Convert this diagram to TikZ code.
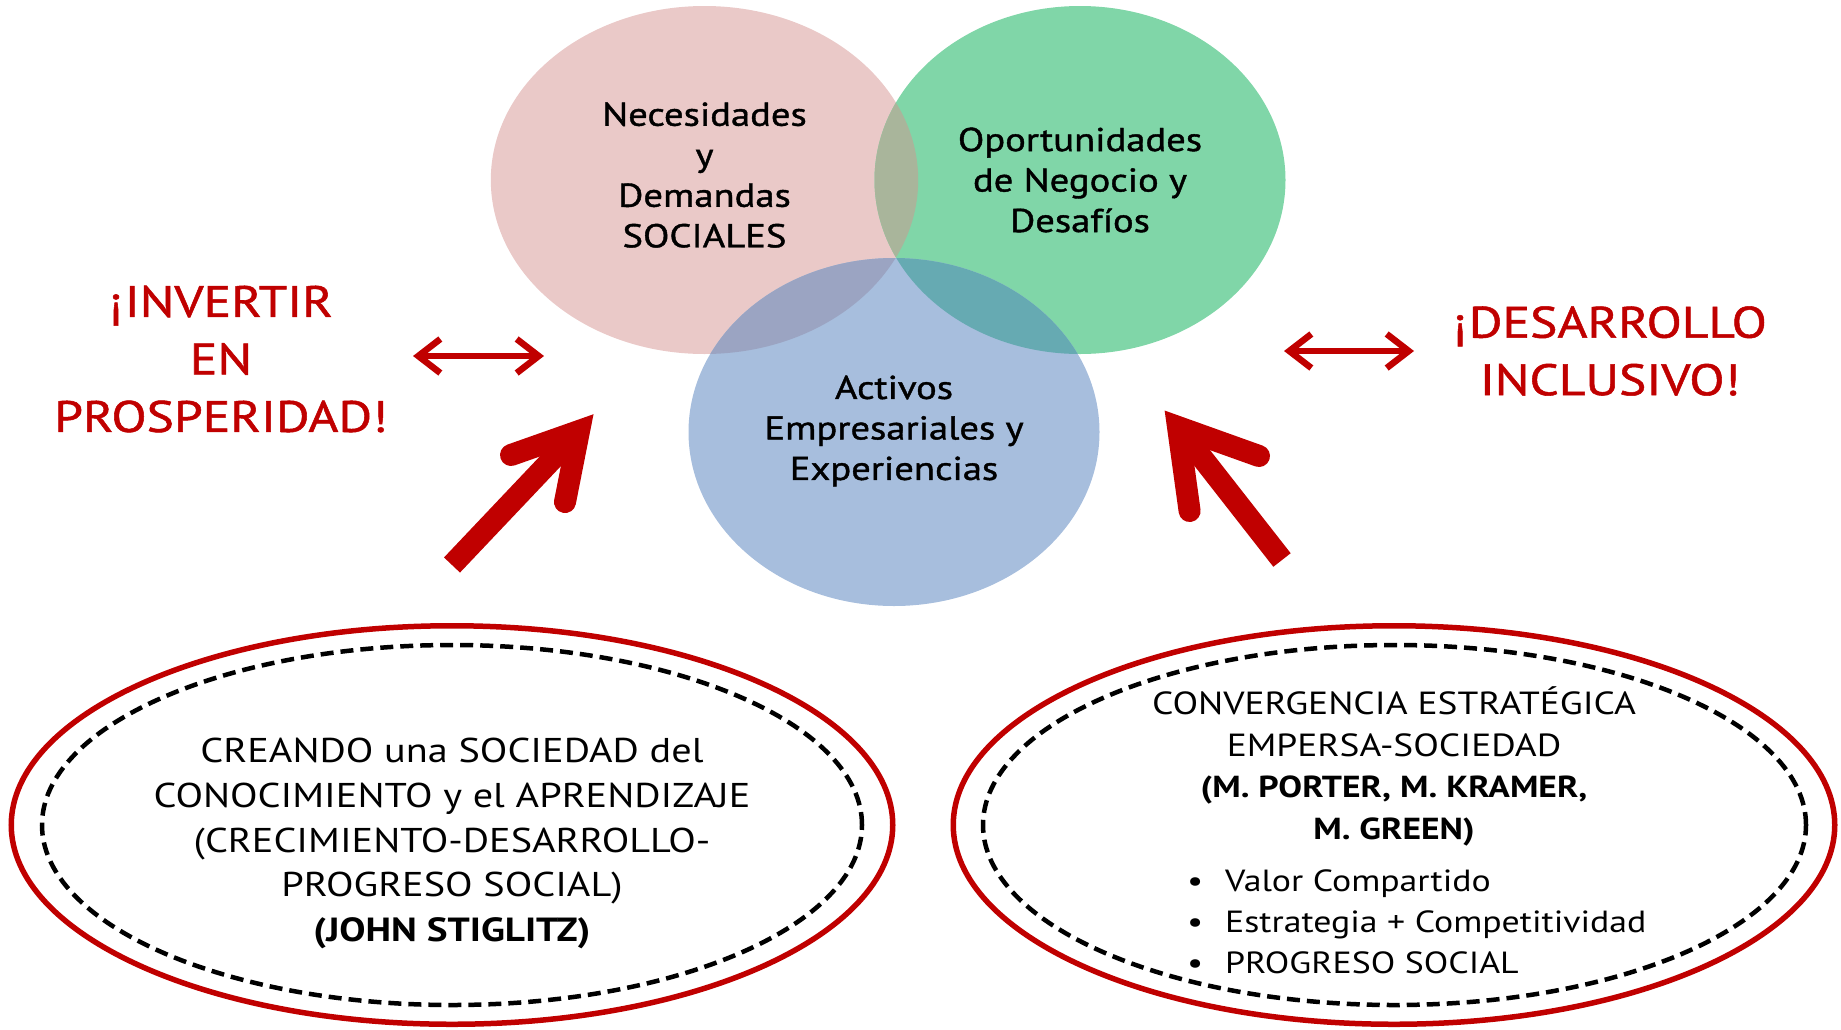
\documentclass[tikz,border=0pt]{standalone}
\usepackage{fontspec}
\setmainfont{PT Sans}[FakeStretch=1.17]
\newfontfamily\medfont{PT Sans}[FakeStretch=1.17, FakeBold=1.2]
\usetikzlibrary{shapes.geometric,arrows.meta}
\definecolor{pinkc}{HTML}{EAC9C8}
\definecolor{greenc}{HTML}{80D6A8}
\definecolor{bluec}{HTML}{A7BEDD}
\definecolor{pgc}{HTML}{A9B59B}
\definecolor{pbc}{HTML}{9BA4C2}
\definecolor{gbc}{HTML}{66AAB2}
\definecolor{myred}{HTML}{C00000}
\begin{document}
\begin{tikzpicture}[x=1pt,y=-1pt,
  ctext/.style={align=center, font=\medfont\fontsize{33}{40.5}\selectfont, inner sep=0pt},
  redtext/.style={align=center, text=myred, font=\medfont\fontsize{44}{57.5}\selectfont, inner sep=0pt},
  outerell/.style={ellipse, draw=myred, line width=5.5pt, inner sep=0pt},
  dashell/.style={ellipse, draw=black, line width=4.5pt, dash pattern=on 13pt off 7pt, inner sep=0pt},
  btext/.style={align=center, inner sep=0pt},
  dblarrow/.style={draw=myred, line width=6.5pt, {Straight Barb[length=22pt,width=34pt]}-{Straight Barb[length=22pt,width=34pt]}},
  bigshaft/.style={draw=myred, line width=22pt},
  bigwing/.style={draw=myred, line width=22pt, line cap=round, line join=miter, miter limit=20}
]
\useasboundingbox (0,0) rectangle (1841,1029);
% Venn fills
\fill[pinkc] (704.5,180) ellipse [x radius=213.7, y radius=174];
\fill[greenc] (1080,180) ellipse [x radius=205.5, y radius=174];
\fill[bluec] (894,432) ellipse [x radius=205.5, y radius=174];
\begin{scope}
  \clip (704.5,180) ellipse [x radius=213.7, y radius=174];
  \fill[pgc] (1080,180) ellipse [x radius=205.5, y radius=174];
  \fill[pbc] (894,432) ellipse [x radius=205.5, y radius=174];
\end{scope}
\begin{scope}
  \clip (1080,180) ellipse [x radius=205.5, y radius=174];
  \fill[gbc] (894,432) ellipse [x radius=205.5, y radius=174];
\end{scope}
% Venn nodes with text
\node[ctext] (nec) at (704.5,175) {Necesidades\\y\\Demandas\\SOCIALES};
\node[ctext] (opo) at (1080,180) {Oportunidades\\de Negocio y\\Desafíos};
\node[ctext] (act) at (894,431) {Activos\\Empresariales y\\Experiencias};
% red titles
\node[redtext] (inv) at (221,359) {¡INVERTIR\\EN\\PROSPERIDAD!};
\node[redtext] (des) at (1610,351) {¡DESARROLLO\\INCLUSIVO!};
% double arrows
\coordinate (la1) at (413,356);
\coordinate (la2) at (544,356);
\coordinate (ra1) at (1284,351);
\coordinate (ra2) at (1414,351);
\draw[dblarrow] (la1) -- (la2);
\draw[dblarrow] (ra1) -- (ra2);
% bottom ellipses
\node[outerell, minimum width=881.5pt, minimum height=398.5pt] (lo) at (452,825) {};
\node[dashell, minimum width=820pt, minimum height=360pt] (ld) at (452,825) {};
\node[outerell, minimum width=881.5pt, minimum height=398.5pt] (ro) at (1394,825) {};
\node[dashell, minimum width=823pt, minimum height=360pt] (rd) at (1394.5,825) {};
% bottom texts
\node[btext, font=\fontsize{34.4}{44.6}\selectfont] (lt) at (452,843.5)
  {CREANDO una SOCIEDAD del\\CONOCIMIENTO y el APRENDIZAJE\\(CRECIMIENTO-DESARROLLO-\\PROGRESO SOCIAL)\\\textbf{\fontsize{33.5}{44.6}\selectfont(JOHN STIGLITZ)}};
\node[btext, font=\fontsize{32}{41.7}\selectfont] (rt) at (1394,766.5)
  {CONVERGENCIA ESTRATÉGICA\\EMPERSA-SOCIEDAD\\\textbf{\fontsize{30.4}{41.7}\selectfont(M. PORTER, M. KRAMER,}\\\textbf{\fontsize{30.4}{41.7}\selectfont M. GREEN)}};
\node[btext, align=left, anchor=west, font=\fontsize{30.6}{41.1}\selectfont] (rl) at (1187,921.6)
  {\makebox[38pt][l]{•}Valor Compartido\\\makebox[38pt][l]{•}Estrategia + Competitividad\\\makebox[38pt][l]{•}PROGRESO SOCIAL};
% big arrows
\coordinate (lt0) at (452,565);
\coordinate (lv) at (579,431);
\coordinate (lw1) at (511,455);
\coordinate (lw2) at (565,502);
\draw[bigshaft] (lt0) -- (lv);
\draw[bigwing] (lw1) -- (lv) -- (lw2);
\coordinate (rt0) at (1282,560);
\coordinate (rv) at (1178,427);
\coordinate (rw1) at (1259,456);
\coordinate (rw2) at (1189.6,511);
\draw[bigshaft] (rt0) -- (rv);
\draw[bigwing] (rw1) -- (rv) -- (rw2);
\end{tikzpicture}
\end{document}
